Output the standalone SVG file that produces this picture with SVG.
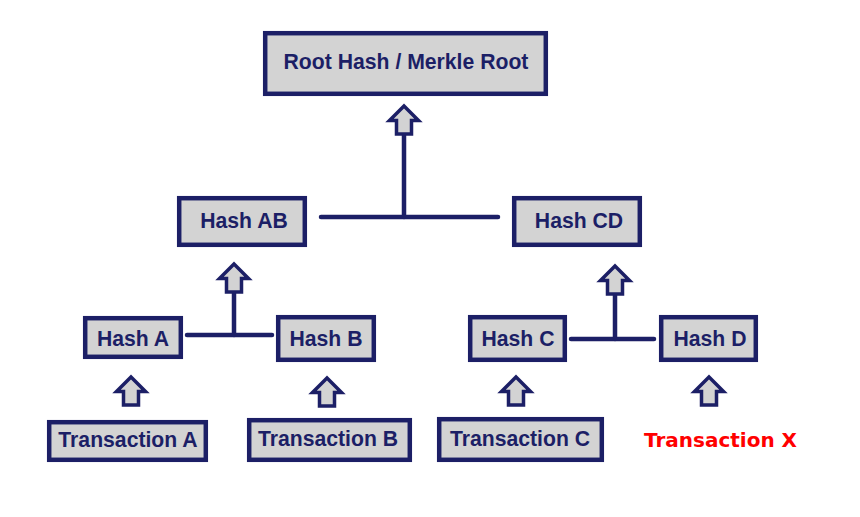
<svg xmlns="http://www.w3.org/2000/svg" width="860" height="517" viewBox="0 0 860 517">
<style>
.box{fill:#d3d3d3;stroke:#1c1f66;stroke-width:4.5}
.lbl{font-family:"Liberation Sans",Arial,sans-serif;font-weight:bold;font-size:21.2px;fill:#1c1f66;text-anchor:middle}
.red{font-family:"DejaVu Sans",sans-serif;font-weight:bold;font-size:20px;fill:#ff0000;text-anchor:middle}
.ln{stroke:#1c1f66;stroke-width:4.5;stroke-linecap:round;fill:none}
.arr{fill:#d3d3d3;stroke:#1c1f66;stroke-width:3.5;stroke-linejoin:miter}
</style>
<defs>
<path id="up" class="arr" d="M0,0 L14.5,14.5 L7.5,14.5 L7.5,28 L-7.5,28 L-7.5,14.5 L-14.5,14.5 Z"/>
</defs>
<rect width="860" height="517" fill="#ffffff"/>
<g id="connectors">
<line class="ln" x1="404" y1="134" x2="404" y2="217"/>
<line class="ln" x1="321" y1="217" x2="498" y2="217"/>
<line class="ln" x1="234" y1="292" x2="234" y2="335"/>
<line class="ln" x1="187" y1="335" x2="272" y2="335"/>
<line class="ln" x1="615" y1="294" x2="615" y2="339"/>
<line class="ln" x1="571" y1="339" x2="654" y2="339"/>
<use href="#up" x="404" y="106"/>
<use href="#up" x="234" y="264"/>
<use href="#up" x="615" y="266"/>
<use href="#up" x="131" y="377"/>
<use href="#up" x="327" y="378"/>
<use href="#up" x="516" y="377"/>
<use href="#up" x="709" y="377"/>
</g>
<g id="root"><rect class="box" x="265.2" y="33.2" width="280.6" height="60.6"/><text class="lbl" x="406" y="69">Root Hash / Merkle Root</text></g>
<g id="hashAB"><rect class="box" x="179.2" y="198.2" width="125.6" height="46.6"/><text class="lbl" x="244" y="228">Hash AB</text></g>
<g id="hashCD"><rect class="box" x="514.2" y="198.2" width="125.6" height="46.6"/><text class="lbl" x="579" y="228">Hash CD</text></g>
<g id="hashA"><rect class="box" x="85.2" y="318.2" width="95.6" height="38.6"/><text class="lbl" x="133" y="346">Hash A</text></g>
<g id="hashB"><rect class="box" x="278.2" y="317.2" width="95.6" height="42.6"/><text class="lbl" x="326" y="346">Hash B</text></g>
<g id="hashC"><rect class="box" x="470.2" y="317.2" width="94.6" height="42.6"/><text class="lbl" x="518" y="346">Hash C</text></g>
<g id="hashD"><rect class="box" x="661.2" y="317.2" width="94.6" height="42.6"/><text class="lbl" x="710" y="346">Hash D</text></g>
<g id="txA"><rect class="box" x="49.2" y="422.2" width="156.6" height="37.6"/><text class="lbl" x="128" y="447">Transaction A</text></g>
<g id="txB"><rect class="box" x="249.2" y="420.2" width="160.6" height="39.6"/><text class="lbl" x="328" y="446">Transaction B</text></g>
<g id="txC"><rect class="box" x="439.2" y="419.2" width="162.6" height="40.6"/><text class="lbl" x="520" y="446">Transaction C</text></g>
<g id="txX"><text class="red" x="720.5" y="447">Transaction X</text></g>
</svg>
